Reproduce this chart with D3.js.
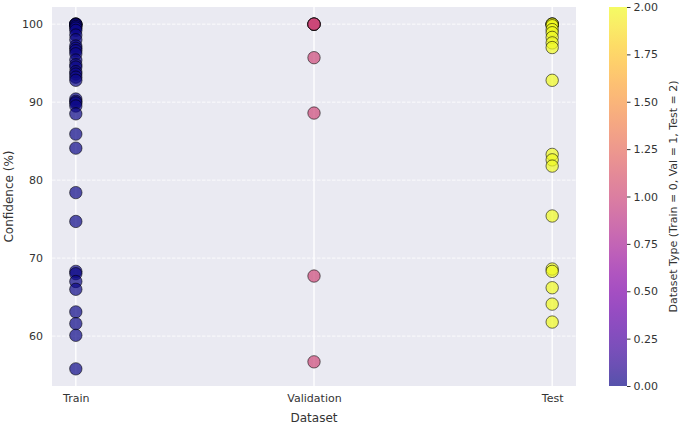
<!DOCTYPE html>
<html><head><meta charset="utf-8">
<script src="https://cdn.jsdelivr.net/npm/d3@7"></script>
<style>body{margin:0;background:#fff;} text{font-family:"DejaVu Sans",sans-serif;}</style>
</head><body><svg id="c" width="682" height="426"></svg>
<script>
const categories = ["Train", "Validation", "Test"];
const trainValues = [100,100,100,100,99.9,99.7,99.5,99.2,98.6,98.0,97.2,96.9,96.6,96.2,95.4,94.8,94.5,93.9,93.6,93.2,92.8,90.4,90.1,89.9,89.5,88.5,85.9,84.1,78.4,74.7,68.3,68.0,67.0,66.0,63.1,61.6,60.1,55.8];
const valValues = [100,100,100,100,100,95.7,88.6,67.7,56.7];
const testValues = [100,100,100,100,99.8,99.3,98.9,98.3,97.6,97.0,92.8,83.3,82.6,81.8,75.4,68.6,68.3,66.2,64.1,61.8];
const yTicks = [60,70,80,90,100];
const cbTicks = [0,0.25,0.5,0.75,1,1.25,1.5,1.75,2];

const svg = d3.select("#c");
const L=52,R=576,T=7,B=386;
const x = d3.scaleLinear().domain([-0.1,2.1]).range([L,R]);
const y = d3.scaleLinear().domain([53.6,102.2]).range([B,T]);
const cScale = v => d3.interpolatePlasma(v/2);

svg.append("rect").attr("x",L).attr("y",T).attr("width",R-L).attr("height",B-T).attr("fill","#eaeaf2");
// grid
svg.append("g").selectAll("line").data(yTicks).join("line")
  .attr("x1",L).attr("x2",R).attr("y1",d=>y(d)).attr("y2",d=>y(d))
  .attr("stroke","#fff").attr("stroke-width",1).attr("stroke-dasharray","3.5,1.5").attr("stroke-opacity",0.8);
svg.append("g").selectAll("line").data([0,1,2]).join("line")
  .attr("y1",T).attr("y2",B).attr("x1",d=>x(d)).attr("x2",d=>x(d))
  .attr("stroke","#fff").attr("stroke-width",1.3);

const pts = [];
[trainValues,valValues,testValues].forEach((arr,i)=>arr.forEach(v=>pts.push({i,v})));
svg.append("g").selectAll("circle").data(pts).join("circle")
  .attr("cx",d=>x(d.i)).attr("cy",d=>y(d.v)).attr("r",6.2)
  .attr("fill",d=>cScale(d.i)).attr("fill-opacity",0.7)
  .attr("stroke","#000").attr("stroke-opacity",0.7).attr("stroke-width",0.8);

// axes text
const gy = svg.append("g").attr("transform",`translate(${L},0)`)
  .call(d3.axisLeft(y).tickValues(yTicks).tickSize(0).tickPadding(9));
gy.select(".domain").remove();
gy.selectAll("text").attr("font-size",11).attr("fill","#333").style("font-family","DejaVu Sans");
const gx = svg.append("g").attr("transform",`translate(0,${B})`)
  .call(d3.axisBottom(x).tickValues([0,1,2]).tickFormat(d=>categories[d]).tickSize(0).tickPadding(8));
gx.select(".domain").remove();
gx.selectAll("text").attr("font-size",11).attr("fill","#333").style("font-family","DejaVu Sans");

svg.append("text").attr("x",(L+R)/2).attr("y",422).attr("text-anchor","middle")
  .attr("font-size",12).attr("fill","#333").text("Dataset");
svg.append("text").attr("transform",`translate(13,${(T+B)/2}) rotate(-90)`).attr("text-anchor","middle")
  .attr("font-size",12).attr("fill","#333").text("Confidence (%)");

// colorbar
const cbL=609,cbR=627;
const cy = d3.scaleLinear().domain([0,2]).range([B,T]);
const defs = svg.append("defs");
const grad = defs.append("linearGradient").attr("id","g").attr("x1",0).attr("x2",0).attr("y1",1).attr("y2",0);
d3.range(0,1.001,0.05).forEach(t=>grad.append("stop").attr("offset",t).attr("stop-color",d3.interpolatePlasma(t)).attr("stop-opacity",0.7));
svg.append("rect").attr("x",cbL).attr("y",T).attr("width",cbR-cbL).attr("height",B-T).attr("fill","url(#g)");
const gc = svg.append("g").attr("transform",`translate(${cbR},0)`)
  .call(d3.axisRight(cy).tickValues(cbTicks).tickFormat(d3.format(".2f")).tickSize(3.5).tickPadding(3));
gc.select(".domain").remove();
gc.selectAll("line").attr("stroke","#333");
gc.selectAll("text").attr("font-size",11).attr("fill","#333").style("font-family","DejaVu Sans");
svg.append("text").attr("transform",`translate(677,${(T+B)/2}) rotate(-90)`).attr("text-anchor","middle")
  .attr("font-size",11).attr("fill","#333").text("Dataset Type (Train = 0, Val = 1, Test = 2)");
</script></body></html>
